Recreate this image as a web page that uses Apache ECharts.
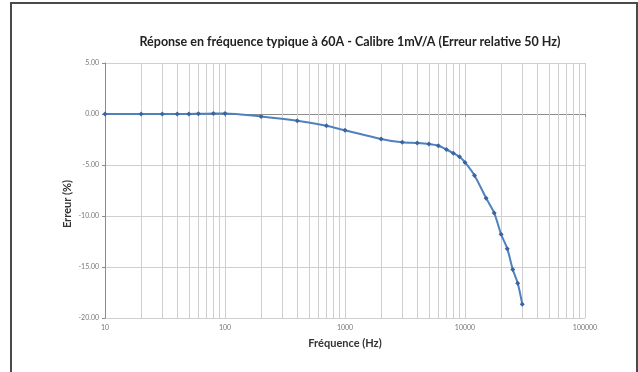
<!DOCTYPE html>
<html>
<head>
<meta charset="utf-8">
<script src="https://cdn.jsdelivr.net/npm/echarts@6/dist/echarts.min.js"></script>
<style>
html,body{margin:0;padding:0;background:#fff;}
#chart{width:638px;height:372px;}
</style>
</head>
<body>
<div id="chart"></div>
<script>
// Data
const frequencies = [10, 20, 30, 40, 50, 60, 80, 100, 200, 400, 700, 1000, 2000, 3000, 4000, 5000, 6000, 7000, 8000, 9000, 10000, 12000, 15000, 17500, 20000, 22500, 25000, 27500, 30000];
const errors =      [0.00, 0.00, 0.00, 0.00, 0.00, 0.02, 0.06, 0.06, -0.25, -0.66, -1.15, -1.60, -2.45, -2.78, -2.85, -2.95, -3.12, -3.48, -3.84, -4.20, -4.75, -6.02, -8.25, -9.70, -11.80, -13.20, -15.25, -16.60, -18.65];
const yTicks = [5, 0, -5, -10, -15, -20];
const xTicks = [10, 100, 1000, 10000, 100000];
const titleText = 'Réponse en fréquence typique à 60A - Calibre 1mV/A (Erreur relative 50 Hz)';
const xName = 'Fréquence (Hz)';
const yName = 'Erreur (%)';

// minor log gridline positions (2..9 within each decade)
const minorGrid = [];
for (let d = 0; d < xTicks.length - 1; d++) {
  for (let k = 2; k <= 9; k++) minorGrid.push(xTicks[d] * k);
}

const chart = echarts.init(document.getElementById('chart'), null, {renderer: 'canvas'});
const gridColor = '#cfcfcf';
chart.setOption({
  animation: false,
  textStyle: {fontFamily: 'Lato'},
  title: {
    text: titleText,
    left: 345, top: 30,
    textAlign: 'center',
    textStyle: {fontFamily: 'Lato', fontSize: 12.5, fontWeight: 'bold', color: '#222'}
  },
  graphic: [{
    type: 'rect', z: -1, silent: true,
    shape: {x: 11, y: 3, width: 626, height: 390},
    style: {fill: 'none', stroke: '#4a4a4a', lineWidth: 2}
  }, {
    type: 'text', silent: true,
    x: 67, y: 204, rotation: Math.PI / 2,
    style: {text: yName, fontFamily: 'Lato', fontSize: 11, fontWeight: 'bold', fill: '#333',
            align: 'center', verticalAlign: 'middle'}
  }],
  grid: {left: 105, right: 53, top: 63, bottom: 54, show: false},
  xAxis: {
    type: 'log', logBase: 10, min: xTicks[0], max: xTicks[xTicks.length - 1],
    name: xName, nameLocation: 'middle', nameGap: 20,
    nameTextStyle: {fontFamily: 'Lato', fontSize: 11, fontWeight: 'bold', color: '#333'},
    axisLine: {show: true, lineStyle: {color: '#8c8c8c', width: 1}},
    axisTick: {show: true, length: 3, lineStyle: {color: '#8c8c8c'}},
    axisLabel: {fontSize: 7, color: '#777', margin: 6, formatter: v => String(v)},
    splitLine: {show: true, lineStyle: {color: gridColor, width: 1}},
    minorTick: {show: false}, minorSplitLine: {show: false}
  },
  yAxis: {
    type: 'value', min: yTicks[yTicks.length - 1], max: yTicks[0], interval: 5,
    axisLine: {show: true, lineStyle: {color: '#8c8c8c', width: 1}},
    axisTick: {show: true, length: 3, lineStyle: {color: '#8c8c8c'}},
    axisLabel: {fontSize: 7, color: '#777', margin: 6, formatter: v => v.toFixed(2)},
    splitLine: {show: true, lineStyle: {color: gridColor, width: 1}}
  },
  series: [{
    type: 'line',
    data: frequencies.map((f, i) => [f, errors[i]]),
    smooth: 0.3,
    symbol: 'diamond', symbolSize: 5,
    itemStyle: {color: '#3a64a0'},
    lineStyle: {color: '#4f81bd', width: 2},
    z: 5,
    markLine: {
      silent: true, symbol: ['none', 'none'], label: {show: false},
      lineStyle: {color: gridColor, width: 1, type: 'solid'},
      animation: false, z: 1,
      data: minorGrid.map(v => ({xAxis: v}))
    }
  }]
});
</script>
</body>
</html>
